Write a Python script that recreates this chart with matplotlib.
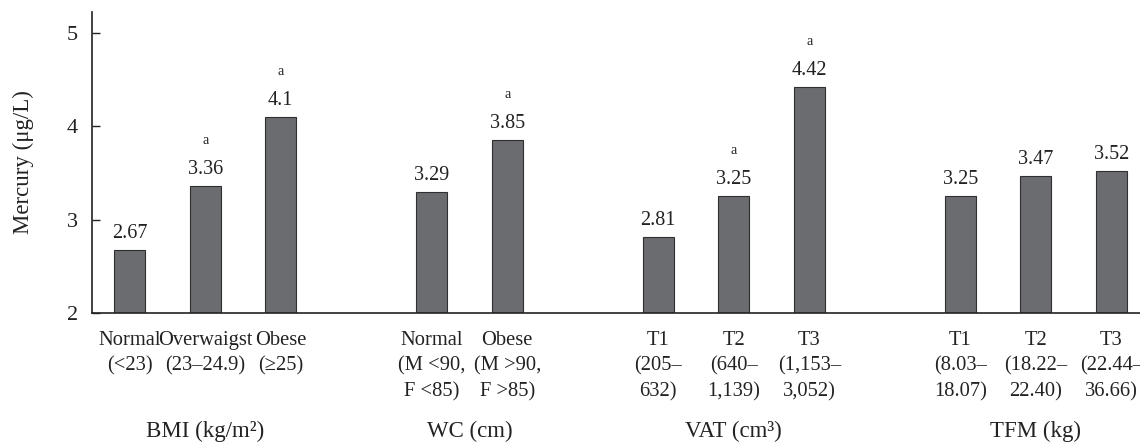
import matplotlib
matplotlib.use("Agg")
import matplotlib.pyplot as plt
import matplotlib.transforms as mtransforms

plt.rcParams['font.family'] = ['Liberation Serif', 'DejaVu Serif']

# Data
categories = ["Normal\n(<23)", "Overwaigst\n(23\u201324.9)", "Obese\n(\u226525)",
              "Normal\n(M <90,\nF <85)", "Obese\n(M >90,\nF >85)",
              "T1\n(205\u2013\n632)", "T2\n(640\u2013\n1,139)", "T3\n(1,153\u2013\n3,052)",
              "T1\n(8.03\u2013\n18.07)", "T2\n(18.22\u2013\n22.40)", "T3\n(22.44\u2013\n36.66)"]
values = [2.67, 3.36, 4.10, 3.29, 3.85, 2.81, 3.25, 4.42, 3.25, 3.47, 3.52]
value_labels = ["2.67", "3.36", "4.1", "3.29", "3.85", "2.81", "3.25", "4.42", "3.25", "3.47", "3.52"]
significant = [False, True, True, False, True, False, True, True, False, False, False]
group_names = ["BMI (kg/m\u00b2)", "WC (cm)", "VAT (cm\u00b3)", "TFM (kg)"]
group_sizes = [3, 2, 3, 3]
yticks = [2, 3, 4, 5]

# positions: one empty slot between groups
positions = []
group_centers = []
p = 0
for n in group_sizes:
    gp = list(range(p, p + n))
    positions.extend(gp)
    group_centers.append(sum(gp) / n)
    p += n + 1

fig = plt.figure(figsize=(11.4, 4.44), dpi=100)
ax = fig.add_axes([0.0807, 0.295, 0.9193, 0.678])

ax.bar(positions, [v - 2 for v in values], bottom=2, width=0.41,
       color="#6b6c70", edgecolor="#2f2f2f", linewidth=0.8, zorder=2)

for x, v, lab, sig in zip(positions, values, value_labels, significant):
    ax.annotate(lab, (x, v), xytext=(0, 5), textcoords="offset points",
                ha="center", va="bottom", fontsize=14.5, color="#222222")
    if sig:
        ax.annotate("a", (x, v), xytext=(0, 28), textcoords="offset points",
                    ha="center", va="bottom", fontsize=10, color="#222222")

ax.set_xlim(-0.5, 13.38)
ax.set_ylim(2, 5.22)
ax.set_yticks(yticks)
ax.set_yticklabels([str(t) for t in yticks], fontsize=16)
ax.tick_params(axis="y", direction="in", length=6, width=1, pad=10, colors="#222222")
ax.set_xticks(positions)
ax.set_xticklabels(categories, fontsize=14.8, linespacing=1.45, color="#222222")
ax.tick_params(axis="x", length=0, pad=13)

for side in ["top", "right"]:
    ax.spines[side].set_visible(False)
for side in ["left", "bottom"]:
    ax.spines[side].set_linewidth(1.2)
    ax.spines[side].set_color("#222222")

ax.set_ylabel("Mercury (\u03bcg/L)", fontsize=16.5, color="#222222", labelpad=24)

trans = mtransforms.blended_transform_factory(ax.transData, fig.transFigure)
for c, name in zip(group_centers, group_names):
    ax.text(c, 1 - 431 / 444, name, transform=trans, ha="center", va="center",
            fontsize=16.5, color="#222222")

fig.savefig("out.png", dpi=100)
